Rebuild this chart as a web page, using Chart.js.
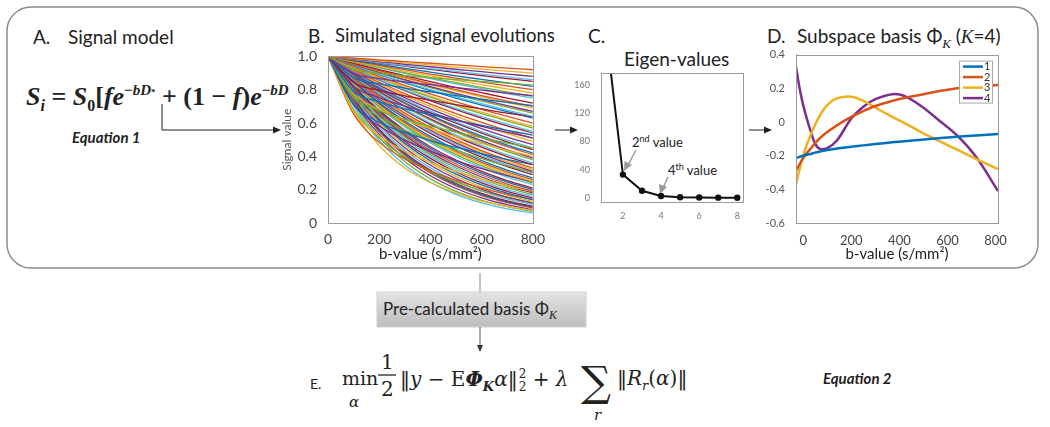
<!DOCTYPE html>
<html>
<head>
<meta charset="utf-8">
<script src="https://cdn.jsdelivr.net/npm/chart.js@4.4.1/dist/chart.umd.min.js"></script>
<style>
body { margin: 0; background: #fff; }
#fig { position: relative; width: 1050px; height: 427px; overflow: hidden; font-family: Lato, "Open Sans", sans-serif; color: #222; }
.t { position: absolute; white-space: nowrap; line-height: 1; }
canvas { position: absolute; }
svg { position: absolute; left: 0; top: 0; }
.serif { font-family: "Liberation Serif", "DejaVu Serif", serif; }
.dj { font-family: "DejaVu Serif", serif; }
</style>
</head>
<body>
<div id="fig">
<svg width="1050" height="427">
  <defs>
    <linearGradient id="boxGrad" x1="0" y1="0" x2="0" y2="1">
      <stop offset="0" stop-color="#e4e4e4"/>
      <stop offset="1" stop-color="#bcbcbc"/>
    </linearGradient>
  </defs>
  <rect x="7" y="7" width="1031" height="261" rx="24" fill="none" stroke="#8c8c8c" stroke-width="1.5"/>
  <!-- A -> B -->
  <path d="M162 104 V130 H274" fill="none" stroke="#222" stroke-width="1"/>
  <polygon points="281,130 273,126.5 273,133.5" fill="#222"/>
  <!-- B -> C -->
  <line x1="555" y1="130" x2="572" y2="130" stroke="#222" stroke-width="1"/>
  <polygon points="578,130 570,126.5 570,133.5" fill="#222"/>
  <!-- C -> D -->
  <line x1="749" y1="130" x2="766" y2="130" stroke="#222" stroke-width="1"/>
  <polygon points="772,130 764,126.5 764,133.5" fill="#222"/>
  <!-- bottom -->
  <line x1="480" y1="273" x2="480" y2="292" stroke="#888" stroke-width="1"/>
  <rect x="377" y="292" width="209" height="35" fill="url(#boxGrad)" stroke="#d0d0d0" stroke-width="1"/>
  <line x1="480" y1="327" x2="480" y2="346" stroke="#555" stroke-width="1"/>
  <polygon points="480,352 477,345 483,345" fill="#333"/>
  <!-- eigen annotations -->
  <line x1="636" y1="150" x2="628" y2="165" stroke="#999" stroke-width="1.5"/>
  <polygon points="624,171 624.5,161 632,165" fill="#999"/>
  <line x1="668" y1="177" x2="663" y2="188" stroke="#999" stroke-width="1.5"/>
  <polygon points="660,194 659,184 667,187" fill="#999"/>
  <!-- fraction bar, equation E -->
  <line x1="378" y1="375" x2="396" y2="375" stroke="#222" stroke-width="1.3"/>
</svg>

<div class="t" style="left:33px;top:27px;font-size:19px;">A.</div>
<div class="t" style="left:68px;top:27px;font-size:19px;">Signal model</div>
<div class="t serif" style="left:26px;top:83px;font-size:26px;font-weight:bold;"><i>S<sub style="font-size:16px">i</sub></i> = <i>S</i><sub style="font-size:16px">0</sub>[<i>fe</i><sup style="font-size:15px">−<i>bD</i><span style="font-size:9px">*</span></sup> + (1 − <i>f</i>)<i>e</i><sup style="font-size:15px">−<i>bD</i></sup></div>
<div class="t" style="left:72px;top:130px;font-size:15px;font-weight:bold;font-style:italic;">Equation 1</div>

<div class="t" style="left:308px;top:26px;font-size:19px;">B.</div>
<div class="t" style="left:335px;top:26px;font-size:18.5px;">Simulated signal evolutions</div>
<div class="t" style="left:588px;top:26px;font-size:19px;">C.</div>
<div class="t" style="left:624px;top:49px;font-size:19px;">Eigen-values</div>
<div class="t" style="left:632px;top:134px;font-size:13px;">2<sup style="font-size:9px">nd</sup> value</div>
<div class="t" style="left:668px;top:162px;font-size:13px;">4<sup style="font-size:9px">th</sup> value</div>
<div class="t" style="left:767px;top:26px;font-size:19px;">D.</div>
<div class="t" style="left:797px;top:26px;font-size:19px;">Subspace basis Φ<sub style="font-size:13px;font-style:italic" class="serif">K</sub> (<i class="serif">K</i>=4)</div>

<div class="t" style="left:383px;top:300px;font-size:17px;">Pre-calculated basis Φ<sub style="font-size:12px;font-style:italic" class="serif">K</sub></div>

<!-- equation E -->
<div class="t" style="left:310px;top:377px;font-size:14px;">E.</div>
<div class="t dj" style="left:342px;top:369px;font-size:19px;">min</div>
<div class="t dj" style="left:349px;top:395px;font-size:15px;font-style:italic;">α</div>
<div class="t dj" style="left:381px;top:352px;font-size:20px;">1</div>
<div class="t dj" style="left:381px;top:379px;font-size:20px;">2</div>
<div class="t dj" style="left:400px;top:368px;font-size:20px;">‖<i>y</i> − E<b><i>Φ</i></b><sub style="font-size:13px;font-weight:bold;font-style:italic">K</sub><i>α</i>‖<span style="display:inline-block;vertical-align:middle;font-size:12px;line-height:1.05;margin-left:1px;">2<br>2</span> + <i>λ</i></div>
<div class="t dj" style="left:581px;top:361px;font-size:42px;">∑</div>
<div class="t dj" style="left:594px;top:408px;font-size:15px;font-style:italic;">r</div>
<div class="t dj" style="left:617px;top:368px;font-size:20px;">‖<i>R</i><sub style="font-size:13px;font-style:italic">r</sub>(<i>α</i>)‖</div>
<div class="t" style="left:823px;top:371px;font-size:15px;font-weight:bold;font-style:italic;">Equation 2</div>

<canvas id="signalChart" width="265" height="222" style="left:280px;top:45px;"></canvas>
<canvas id="eigenChart" width="175" height="155" style="left:575px;top:65px;"></canvas>
<canvas id="basisChart" width="245" height="222" style="left:765px;top:45px;"></canvas>
</div>

<script>
// MATLAB default line colours
const matlabColors = ['#0072BD', '#D95319', '#EDB120', '#7E2F8E', '#77AC30', '#4DBEEE', '#A2142F'];

// B. simulated signal evolutions, values at each b-value
const bValues = [0, 100, 200, 300, 400, 500, 600, 700, 800];
const simulatedSignals = [
    [1, 1, 1, 1, 1, 1, 1, 1, 1],
    [1, .990, .979, .969, .959, .949, .939, .930, .920],
    [1, .987, .974, .961, .949, .936, .924, .912, .900],
    [1, .984, .969, .953, .938, .923, .908, .894, .880],
    [1, .920, .898, .884, .873, .861, .850, .839, .828],
    [1, .981, .963, .945, .927, .910, .893, .877, .860],
    [1, .980, .960, .941, .922, .903, .885, .867, .850],
    [1, .976, .952, .928, .906, .883, .862, .841, .820],
    [1, .972, .946, .920, .894, .870, .846, .823, .800],
    [1, .969, .940, .911, .883, .856, .830, .805, .780],
    [1, .897, .867, .847, .830, .813, .797, .780, .765],
    [1, .966, .934, .902, .872, .842, .814, .787, .760],
    [1, .965, .931, .898, .866, .835, .806, .777, .750],
    [1, .960, .921, .884, .849, .814, .782, .750, .720],
    [1, .873, .836, .810, .787, .765, .744, .724, .704],
    [1, .956, .915, .875, .837, .800, .765, .732, .700],
    [1, .955, .911, .870, .831, .793, .757, .723, .690],
    [1, .951, .905, .861, .819, .778, .740, .704, .670],
    [1, .949, .901, .856, .812, .771, .732, .695, .660],
    [1, .946, .894, .846, .800, .757, .716, .677, .640],
    [1, .843, .796, .763, .736, .710, .685, .660, .638],
    [1, .944, .891, .841, .794, .749, .707, .668, .630],
    [1, .938, .880, .826, .775, .727, .682, .640, .600],
    [1, .934, .873, .815, .761, .711, .665, .621, .580],
    [1, .820, .753, .702, .659, .618, .580, .544, .510],
    [1, .932, .869, .810, .755, .704, .656, .612, .570],
    [1, .928, .861, .799, .742, .688, .639, .593, .550],
    [1, .926, .857, .794, .735, .681, .630, .583, .540],
    [1, .789, .727, .685, .650, .617, .586, .556, .528],
    [1, .919, .845, .777, .714, .657, .604, .555, .510],
    [1, .915, .837, .765, .700, .640, .585, .536, .490],
    [1, .910, .828, .753, .685, .624, .567, .516, .470],
    [1, .760, .675, .622, .581, .545, .512, .480, .450],
    [1, .905, .819, .741, .671, .607, .549, .497, .450],
    [1, .902, .814, .735, .663, .599, .540, .487, .440],
    [1, .897, .805, .722, .648, .581, .522, .468, .420],
    [1, .895, .800, .716, .640, .573, .513, .459, .410],
    [1, .775, .682, .619, .566, .518, .476, .436, .400],
    [1, .889, .790, .702, .625, .555, .494, .439, .390],
    [1, .886, .785, .696, .617, .546, .484, .429, .380],
    [1, .880, .775, .682, .600, .528, .465, .409, .360],
    [1, .877, .769, .675, .592, .519, .455, .399, .350],
    [1, .710, .605, .542, .495, .454, .417, .382, .350],
    [1, .871, .758, .660, .574, .500, .435, .379, .330],
    [1, .867, .752, .652, .566, .490, .425, .369, .320],
    [1, .864, .746, .644, .557, .481, .415, .359, .310],
    [1, .750, .638, .558, .494, .437, .387, .343, .304],
    [1, .860, .740, .637, .548, .471, .405, .349, .300],
    [1, .857, .734, .629, .538, .461, .395, .338, .290],
    [1, .849, .721, .612, .520, .441, .375, .318, .270],
    [1, .845, .714, .603, .509, .430, .364, .307, .260],
    [1, .841, .707, .595, .500, .420, .354, .297, .250],
    [1, .710, .582, .497, .431, .375, .326, .284, .248],
    [1, .837, .700, .586, .490, .410, .343, .287, .240],
    [1, .832, .693, .576, .480, .399, .332, .276, .230],
    [1, .823, .677, .557, .458, .377, .310, .255, .210],
    [1, .818, .669, .547, .447, .366, .299, .245, .200],
    [1, .813, .660, .536, .436, .354, .288, .234, .190],
    [1, .670, .522, .430, .364, .309, .263, .223, .189],
    [1, .807, .651, .526, .424, .342, .276, .223, .180],
    [1, .801, .642, .514, .412, .330, .264, .212, .170],
    [1, .795, .632, .503, .400, .318, .253, .201, .160],
    [1, .789, .623, .491, .388, .306, .241, .190, .150],
    [1, .782, .612, .478, .374, .293, .229, .179, .140],
    [1, .655, .484, .385, .313, .256, .209, .172, .140],
    [1, .775, .600, .465, .361, .280, .217, .168, .130],
    [1, .767, .589, .452, .347, .266, .204, .156, .120],
    [1, .680, .510, .395, .310, .245, .193, .152, .120],
    [1, .759, .575, .437, .331, .251, .191, .145, .110],
    [1, .750, .562, .422, .316, .237, .178, .133, .100],
    [1, .745, .555, .413, .308, .229, .171, .127, .095],
    [1, .740, .548, .405, .300, .222, .164, .122, .090],
    [1, .670, .465, .330, .243, .180, .132, .100, .075],
    [1, .730, .532, .389, .284, .207, .151, .110, .080],
    [1, .717, .514, .369, .265, .190, .136, .098, .070],
    [1, .703, .495, .348, .245, .172, .121, .085, .060]
];

// C. eigen-values
const eigenIndex = [1, 2, 3, 4, 5, 6, 7, 8];
const eigenValues = [262, 33, 10, 2.5, 0.8, 0.4, 0.2, 0.1];
const eigenTicksY = [0, 40, 80, 120, 160];
const eigenTicksX = [2, 4, 6, 8];

// D. subspace basis, K = 4
const basisB = [-30, -15, 0, 15, 30, 50, 70, 100, 140, 200, 250, 300, 370, 420, 490, 560, 640, 720, 810];
const basis1 = [-.215, -.207, -.2, -.195, -.19, -.182, -.175, -.167, -.158, -.147, -.139, -.131, -.121, -.115, -.106, -.097, -.088, -.08, -.072];
const basis2 = [-.29, -.25, -.215, -.185, -.16, -.125, -.095, -.06, -.02, .03, .065, .095, .125, .142, .162, .182, .2, .213, .22];
const basis3 = [-.37, -.28, -.2, -.135, -.08, -.015, .04, .1, .14, .15, .125, .085, .03, -.005, -.06, -.11, -.165, -.22, -.28];
const basis4 = [.33, .2, .1, .02, -.05, -.13, -.16, -.155, -.11, .02, .09, .135, .165, .155, .095, .015, -.08, -.21, -.41];
const basisLabels = ['1', '2', '3', '4'];
const basisTicksX = [0, 200, 400, 600, 800];

const boxPlugin = {
    id: 'box',
    afterDraw(chart) {
        const { ctx, chartArea: a } = chart;
        ctx.save();
        ctx.strokeStyle = '#9a9a9a';
        ctx.lineWidth = 1;
        ctx.strokeRect(Math.round(a.left) + 0.5, Math.round(a.top) + 0.5, Math.round(a.width), Math.round(a.height));
        ctx.restore();
    }
};

const basisLegend = {
    id: 'basisLegend',
    afterDraw(chart) {
        const { ctx, chartArea: a } = chart;
        const w = 33, h = 42;
        const x0 = a.right - 6 - w, y0 = a.top + 6;
        ctx.save();
        ctx.fillStyle = '#fff';
        ctx.fillRect(x0, y0, w, h);
        ctx.strokeStyle = '#aaa';
        ctx.lineWidth = 1;
        ctx.strokeRect(x0 + 0.5, y0 + 0.5, w, h);
        ctx.font = '11px Lato, sans-serif';
        ctx.textBaseline = 'middle';
        chart.data.datasets.forEach((ds, i) => {
            const y = y0 + 6 + i * 10.5;
            ctx.strokeStyle = ds.borderColor;
            ctx.lineWidth = 2.5;
            ctx.beginPath();
            ctx.moveTo(x0 + 4, y);
            ctx.lineTo(x0 + 24, y);
            ctx.stroke();
            ctx.fillStyle = '#333';
            ctx.fillText(ds.label, x0 + 25, y);
        });
        ctx.restore();
    }
};

function toPoints(xs, ys) {
    return xs.map((x, i) => ({ x: x, y: ys[i] }));
}

const tickFont = { family: 'Lato, sans-serif', size: 14 };

new Chart(document.getElementById('signalChart'), {
    type: 'line',
    data: {
        datasets: simulatedSignals.map((vals, i) => ({
            data: toPoints(bValues, vals),
            borderColor: matlabColors[i % matlabColors.length],
            borderWidth: 1.3,
            pointRadius: 0,
            cubicInterpolationMode: 'monotone',
            fill: false
        }))
    },
    options: {
        responsive: false,
        animation: false,
        layout: { padding: { top: 8, right: 9 } },
        plugins: { legend: { display: false }, tooltip: { enabled: false } },
        scales: {
            x: {
                type: 'linear', min: 0, max: 800,
                ticks: { stepSize: 200, color: '#444', font: tickFont, padding: 0, maxRotation: 0 },
                grid: { display: false }, border: { color: '#9a9a9a' },
                title: { display: true, text: 'b-value (s/mm²)', color: '#222', font: { family: 'Lato, sans-serif', size: 15 }, padding: { top: 2 } },
                afterFit: s => { s.height = 44; }
            },
            y: {
                min: 0, max: 1,
                ticks: { stepSize: 0.2, color: '#444', font: tickFont, padding: 3 },
                grid: { display: false }, border: { color: '#9a9a9a' },
                title: { display: true, text: 'Signal value', color: '#555', font: { family: 'Lato, sans-serif', size: 12 }, padding: 0 },
                afterFit: s => { s.width = 48; }
            }
        }
    },
    plugins: [boxPlugin]
});

new Chart(document.getElementById('eigenChart'), {
    type: 'line',
    data: {
        datasets: [{
            data: toPoints(eigenIndex, eigenValues),
            borderColor: '#111',
            borderWidth: 2,
            pointRadius: 2.2,
            pointBackgroundColor: '#111',
            pointBorderColor: '#111',
            tension: 0
        }]
    },
    options: {
        responsive: false,
        animation: false,
        layout: { padding: { top: 6, right: 7 } },
        plugins: { legend: { display: false }, tooltip: { enabled: false } },
        scales: {
            x: {
                type: 'linear', min: 0.85, max: 8.3,
                afterBuildTicks: s => { s.ticks = eigenTicksX.map(v => ({ value: v })); },
                ticks: { color: '#777', font: { family: 'Lato, sans-serif', size: 9 }, padding: 1, maxRotation: 0 },
                grid: { display: false }, border: { color: '#9a9a9a' },
                afterFit: s => { s.height = 18; }
            },
            y: {
                min: -6, max: 177,
                afterBuildTicks: s => { s.ticks = eigenTicksY.map(v => ({ value: v })); },
                ticks: { color: '#777', font: { family: 'Lato, sans-serif', size: 9 }, padding: 3 },
                grid: { display: false }, border: { color: '#9a9a9a' },
                afterFit: s => { s.width = 26; }
            }
        }
    },
    plugins: [boxPlugin]
});

const basisSeries = [basis1, basis2, basis3, basis4];
new Chart(document.getElementById('basisChart'), {
    type: 'line',
    data: {
        datasets: basisSeries.map((vals, i) => ({
            label: basisLabels[i],
            data: toPoints(basisB, vals),
            borderColor: matlabColors[i],
            borderWidth: 2.5,
            pointRadius: 0,
            tension: 0.35
        }))
    },
    options: {
        responsive: false,
        animation: false,
        layout: { padding: { top: 8, right: 12 } },
        plugins: { legend: { display: false }, tooltip: { enabled: false } },
        scales: {
            x: {
                type: 'linear', min: -30, max: 810,
                afterBuildTicks: s => { s.ticks = basisTicksX.map(v => ({ value: v })); },
                ticks: { color: '#444', font: { family: 'Lato, sans-serif', size: 13 }, padding: 2, maxRotation: 0 },
                grid: { display: false }, border: { color: '#9a9a9a' },
                title: { display: true, text: 'b-value (s/mm²)', color: '#222', font: { family: 'Lato, sans-serif', size: 15 }, padding: { top: 2 } },
                afterFit: s => { s.height = 44; }
            },
            y: {
                min: -0.6, max: 0.4,
                ticks: { stepSize: 0.2, color: '#555', font: { family: 'Lato, sans-serif', size: 11 }, padding: 3 },
                grid: { display: false }, border: { color: '#9a9a9a' },
                afterFit: s => { s.width = 31; }
            }
        }
    },
    plugins: [boxPlugin, basisLegend]
});
</script>
</body>
</html>
